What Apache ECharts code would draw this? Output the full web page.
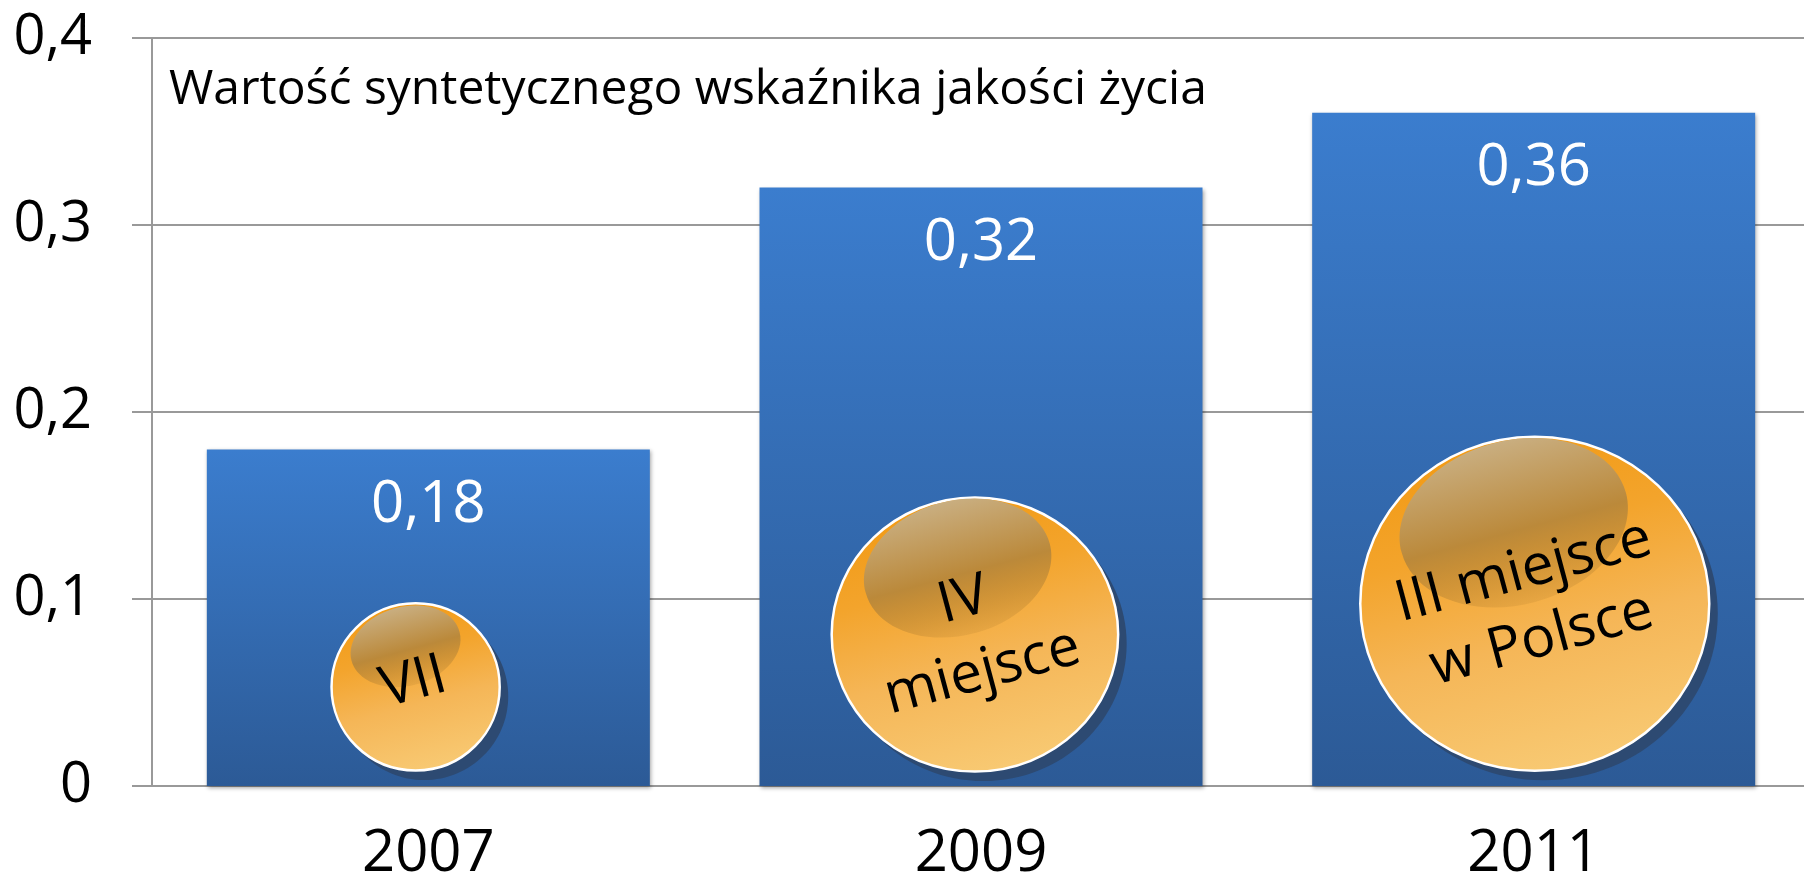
<!DOCTYPE html>
<html>
<head>
<meta charset="utf-8">
<style>html,body{margin:0;padding:0;background:#fff}#c{width:1804px;height:877px}</style>
<script src="https://cdn.jsdelivr.net/npm/echarts@6/dist/echarts.min.js"></script>
</head>
<body>
<div id="c"></div>
<script>
const years = ['2007', '2009', '2011'];
const values = [0.18, 0.32, 0.36];
const chartTitle = 'Wartość syntetycznego wskaźnika jakości życia';
const rankLabels = ['VII', 'IV\nmiejsce', 'III miejsce\nw Polsce'];
const bubbleCategory = [0, 1, 2];
const bubbleCategoryOffset = [-0.023, -0.011, 0.002];
const bubbleCentre = [0.053, 0.081, 0.0975];
const bubbleRadius = [0.0447, 0.0733, 0.0893];

const FONT = '"Open Sans", sans-serif';
const AXIS = '#999999';
const ROT = 15 * Math.PI / 180;

function renderBubble(params, api) {
  const i = params.dataIndex;
  const unit = api.size([1, 0.1]);
  const p = api.coord([bubbleCategory[i], bubbleCentre[i]]);
  const cx = p[0] + bubbleCategoryOffset[i] * unit[0];
  const cy = p[1];
  const ry = bubbleRadius[i] / 0.1 * unit[1];
  const rx = ry * (i === 0 ? 1.006 : 1.045);
  const fs = 57;
  const lh = i === 1 ? 74 : 70;
  return {
    type: 'group',
    children: [
      { type: 'ellipse', shape: { cx: cx + 8.5, cy: cy + 9.5, rx: rx, ry: ry }, style: { fill: '#2d4a72' } },
      { type: 'ellipse', shape: { cx: cx, cy: cy, rx: rx, ry: ry },
        style: { stroke: '#ffffff', lineWidth: 2.5, fill: { type: 'linear', x: 0.37, y: 0, x2: 0.63, y2: 1,
          colorStops: [{ offset: 0, color: '#f29a14' }, { offset: 0.3, color: '#f3a42c' }, { offset: 0.6, color: '#f5b657' }, { offset: 1, color: '#f8ca74' }] } } },
      { type: 'ellipse', shape: { cx: 0, cy: 0, rx: rx * 0.665, ry: rx * 0.47 },
        x: cx - 0.12 * rx, y: cy - 0.485 * ry, rotation: ROT,
        style: { fill: { type: 'linear', x: 0.5, y: 0, x2: 0.5, y2: 1,
          colorStops: [{ offset: 0, color: '#c9ae80' }, { offset: 0.55, color: '#bb893a' }, { offset: 1, color: 'rgba(190,135,50,0.25)' }] } } },
      { type: 'text', x: cx - 2, y: cy + (i === 0 ? -4 : 2), rotation: ROT,
        style: { text: rankLabels[i], fill: '#000', fontFamily: 'Open Sans', fontSize: fs, lineHeight: lh, align: 'center', verticalAlign: 'middle' } }
    ]
  };
}

const chart = echarts.init(document.getElementById('c'), null, { renderer: 'canvas' });
chart.setOption({
  animation: false,
  backgroundColor: '#ffffff',
  title: {
    text: chartTitle, left: 169, top: 66, padding: 0,
    textStyle: { fontFamily: FONT, fontSize: 48, fontWeight: 'normal', color: '#000' }
  },
  grid: { left: 152, width: 1658, top: 38, height: 748, outerBoundsMode: 'none' },
  xAxis: {
    type: 'category', data: years,
    axisLine: { lineStyle: { color: AXIS, width: 2 } },
    axisTick: { show: false },
    axisLabel: { fontFamily: FONT, fontSize: 58, color: '#000', margin: 39 }
  },
  yAxis: {
    type: 'value', min: 0, max: 0.4, interval: 0.1,
    axisLine: { show: true, lineStyle: { color: AXIS, width: 2 } },
    axisTick: { show: true, length: 20, lineStyle: { color: AXIS, width: 2 } },
    splitLine: { show: true, lineStyle: { color: AXIS, width: 2 } },
    axisLabel: { fontFamily: FONT, fontSize: 56, color: '#000', margin: 60,
      formatter: v => String(v).replace('.', ',') }
  },
  series: [
    { type: 'bar', data: values, barWidth: 443, z: 2,
      itemStyle: {
        color: { type: 'linear', x: 0, y: 0, x2: 0, y2: 1, colorStops: [{ offset: 0, color: '#3b7dce' }, { offset: 1, color: '#2c5a96' }] },
        shadowColor: 'rgba(0,0,0,0.35)', shadowBlur: 4, shadowOffsetX: 1, shadowOffsetY: 2
      },
      label: { show: true, position: 'insideTop', distance: 27, color: '#ffffff', fontFamily: FONT, fontSize: 58,
        formatter: p => String(p.value).replace('.', ',') } },
    { type: 'custom', data: bubbleCentre.map((v, i) => [bubbleCategory[i], v]), z: 5,
      encode: { x: 0, y: 1 }, renderItem: renderBubble, clip: false }
  ]
});
</script>
</body>
</html>
